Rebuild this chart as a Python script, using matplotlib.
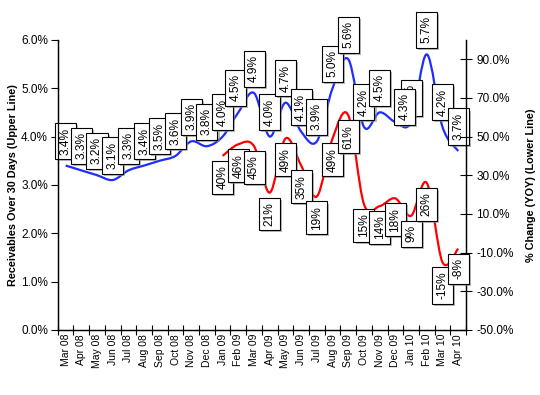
import matplotlib.pyplot as plt
import matplotlib.patheffects as pe
from matplotlib.path import Path
from matplotlib.patches import PathPatch
from matplotlib.ticker import FuncFormatter, FixedLocator

plt.rcParams['font.family'] = ['Liberation Sans', 'DejaVu Sans']

months = ['Mar 08', 'Apr 08', 'May 08', 'Jun 08', 'Jul 08', 'Aug 08', 'Sep 08',
          'Oct 08', 'Nov 08', 'Dec 08', 'Jan 09', 'Feb 09', 'Mar 09', 'Apr 09',
          'May 09', 'Jun 09', 'Jul 09', 'Aug 09', 'Sep 09', 'Oct 09', 'Nov 09',
          'Dec 09', 'Jan 10', 'Feb 10', 'Mar 10', 'Apr 10']
# receivables over 30 days, % (upper line)
receivables = [3.4, 3.3, 3.2, 3.1, 3.3, 3.4, 3.5, 3.6, 3.9, 3.8, 4.0, 4.5, 4.9,
               4.0, 4.7, 4.1, 3.9, 5.0, 5.6, 4.2, 4.5, 4.3, 4.3, 5.7, 4.2, 3.7]
# year over year change, % (lower line), starts at Jan 09
yoy_start = 10
yoy = [40, 46, 45, 21, 49, 35, 19, 49, 61, 15, 14, 18, 9, 26, -15, -8]

BLUE = '#1f2dff'
RED = '#ff0000'


def smooth_path(xs, ys):
    # bezier curve through every point, like a spreadsheet "smoothed line"
    n = len(xs)
    verts = [(xs[0], ys[0])]
    codes = [Path.MOVETO]
    for i in range(n - 1):
        a = max(i - 1, 0)
        b = min(i + 2, n - 1)
        c1 = (xs[i] + (xs[i + 1] - xs[a]) / 6, ys[i] + (ys[i + 1] - ys[a]) / 6)
        c2 = (xs[i + 1] - (xs[b] - xs[i]) / 6, ys[i + 1] - (ys[b] - ys[i]) / 6)
        verts += [c1, c2, (xs[i + 1], ys[i + 1])]
        codes += [Path.CURVE4] * 3
    return Path(verts, codes)


def box_label(ax, x, y, txt, dx, dy, va, z=5):
    t = ax.annotate(txt, (x, y), xytext=(dx, dy), textcoords='offset pixels',
                    rotation=90, ha='center', va=va, fontsize=8.6, zorder=z,
                    bbox=dict(boxstyle='square,pad=0.38', fc='white', ec='black', lw=0.8))
    t.get_bbox_patch().set_path_effects(
        [pe.SimplePatchShadow(offset=(1.5, -1.5), shadow_rgbFace='0.55', alpha=0.6), pe.Normal()])
    return t


fig = plt.figure(figsize=(5.4, 3.95), dpi=100)
ax = fig.add_axes([0.107, 0.165, 0.756, 0.734])
ax2 = ax.twinx()

xs = list(range(len(months)))
ax.add_patch(PathPatch(smooth_path(xs, receivables), fill=False, ec=BLUE, lw=1.6, zorder=3))
xr = xs[yoy_start:yoy_start + len(yoy)]
ax2.add_patch(PathPatch(smooth_path(xr, yoy), fill=False, ec=RED, lw=1.6, zorder=3))

ax.set_xlim(-0.5, len(months) - 0.5)
ax.set_ylim(0, 6)
ax2.set_ylim(-50, 100)

# blue labels above, red labels below
nudge = {11: (-3, 11), 21: (9, 2)}
for i, v in enumerate(receivables):
    dx, dy = nudge.get(i, (0, 11))
    box_label(ax, xs[i], v, '%.1f%%' % v, dx, dy, 'bottom', z=7 if i == 21 else 5)
for x, v in zip(xr, yoy):
    box_label(ax2, x, v, '%d%%' % v, 0, -9.5, 'top')

ax.set_yticks([0, 1, 2, 3, 4, 5, 6])
ax.yaxis.set_major_formatter(FuncFormatter(lambda v, p: '%.1f%%' % v))
ax2.set_yticks([-50, -30, -10, 10, 30, 50, 70, 90])
ax2.yaxis.set_major_formatter(FuncFormatter(lambda v, p: '%.1f%%' % v))

ax.xaxis.set_major_locator(FixedLocator([i - 0.5 for i in range(len(months) + 1)]))
ax.xaxis.set_major_formatter(FuncFormatter(lambda v, p: ''))
ax.xaxis.set_minor_locator(FixedLocator(xs))
ax.set_xticklabels(months, minor=True, rotation=90, fontsize=7.5)
ax.tick_params(axis='x', which='minor', length=0, pad=3)
ax.tick_params(axis='x', which='major', direction='inout', length=7, width=0.8)
ax.tick_params(axis='y', direction='out', length=5, width=0.8, labelsize=8.5, pad=2)
ax2.tick_params(axis='y', direction='inout', length=8, width=0.8, labelsize=8.5)

for a in (ax, ax2):
    a.spines['top'].set_visible(False)
    for s in a.spines.values():
        s.set_linewidth(0.9)

ax.set_ylabel('Receivables Over 30 Days (Upper Line)', fontweight='bold', fontsize=7.8, labelpad=2)
ax2.set_ylabel('% Change (YOY) (Lower Line)', fontweight='bold', fontsize=7.8, labelpad=9)

fig.savefig('out.png', dpi=100)
